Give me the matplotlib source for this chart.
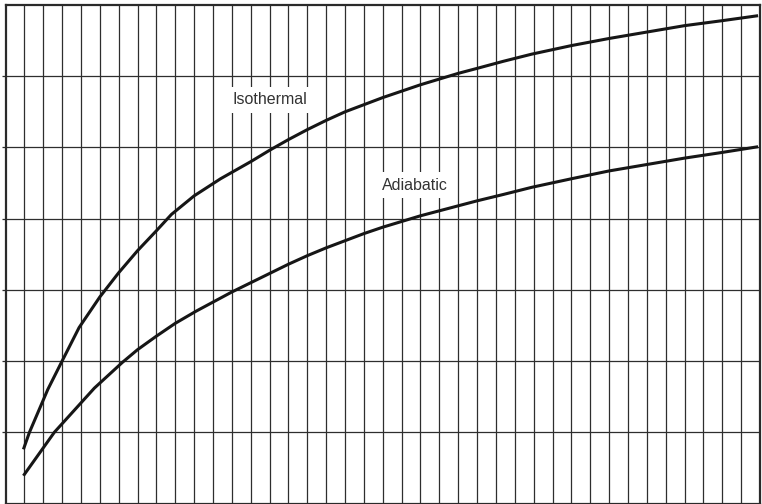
import matplotlib.pyplot as plt

# curve values (x in grid columns, y in grid rows)
iso_x = [0.95, 1.27, 2.24, 3.0, 3.9, 5, 6, 7, 8, 8.8, 10, 11.4, 13, 14, 15, 16, 17,
         18, 19, 20, 21, 22, 23, 24, 25, 26.4, 27.9, 30, 32, 34, 36, 38, 39.9]
iso_y = [0.76, 1.0, 1.60, 2.0, 2.47, 2.90, 3.24, 3.55, 3.83, 4.06, 4.32, 4.56, 4.80,
         4.96, 5.11, 5.25, 5.38, 5.50, 5.60, 5.70, 5.79, 5.88, 5.96, 6.04, 6.11, 6.21,
         6.31, 6.43, 6.53, 6.62, 6.71, 6.78, 6.85]

adi_x = [0.95, 2.59, 4.71, 6.19, 7, 8, 9, 10.1, 12, 13, 14, 15, 16, 17, 18, 19, 20,
         21, 22, 23, 24, 25, 26.4, 27.9, 30, 32, 34, 36, 38, 39.9]
adi_y = [0.39, 1.0, 1.62, 1.98, 2.16, 2.35, 2.53, 2.70, 2.97, 3.10, 3.23, 3.36, 3.48,
         3.59, 3.69, 3.79, 3.88, 3.96, 4.04, 4.11, 4.18, 4.25, 4.34, 4.44, 4.56, 4.67,
         4.76, 4.85, 4.93, 5.01]

labels = ["Isothermal", "Adiabatic"]
label_pos = [(14.0, 5.67), (21.7, 4.47)]

fig = plt.figure(figsize=(7.62, 5.04), dpi=100)
ax = fig.add_axes([5.5 / 762, 0.5 / 504, 754.5 / 762, 498.5 / 504])

ax.set_xlim(0, 40)
ax.set_ylim(0, 7)
ax.set_xticks(range(1, 40))
ax.set_yticks(range(1, 7))
ax.grid(True, color="#2e2e2e", linewidth=0.9)
ax.set_axisbelow(True)
ax.tick_params(axis="x", bottom=False, labelbottom=False)
ax.tick_params(axis="y", left=True, length=3, width=0.9, labelleft=False,
               color="#2e2e2e")
for side in ["left", "top", "right", "bottom"]:
    ax.spines[side].set_linewidth(1.6)
    ax.spines[side].set_color("#2a2a2a")

for xs, ys in [(iso_x, iso_y), (adi_x, adi_y)]:
    ax.plot(xs, ys, color="#161616", linewidth=2.2, solid_joinstyle="round",
            solid_capstyle="butt")

for text, (tx, ty) in zip(labels, label_pos):
    ax.text(tx, ty, text, ha="center", va="center", fontsize=11.5,
            family="Liberation Sans", color="#333333",
            bbox=dict(facecolor="white", edgecolor="none", pad=4))

fig.savefig("out.png", dpi=100)
